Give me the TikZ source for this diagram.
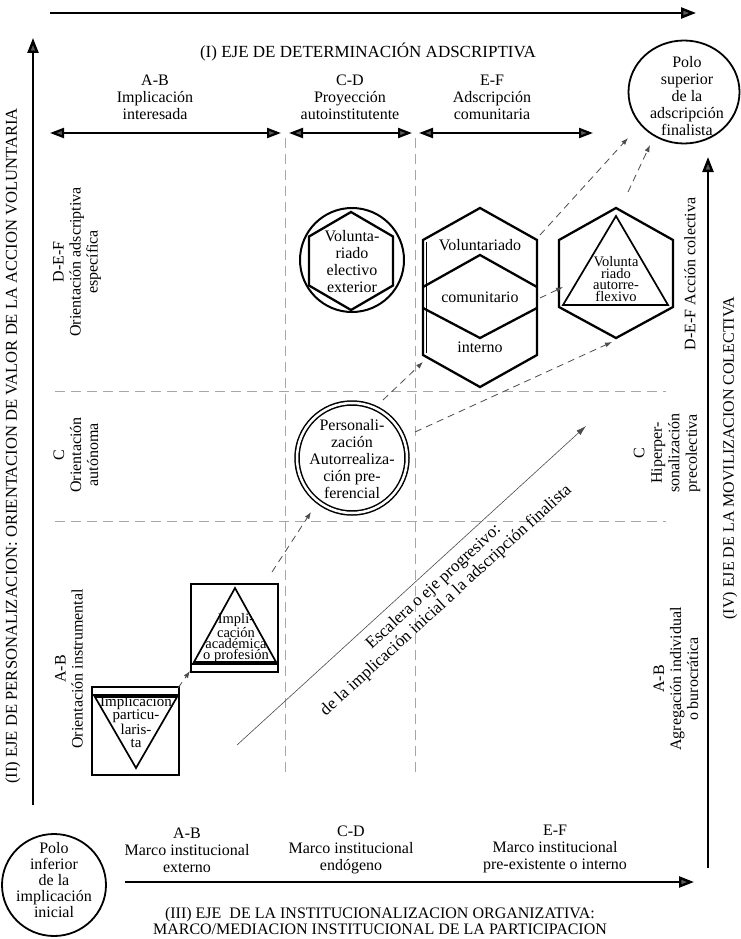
\documentclass[tikz,border=0pt]{standalone}
\usepackage{fontspec}
\setmainfont{Liberation Serif}
\usetikzlibrary{arrows.meta,shapes.geometric}
\begin{document}
\begin{tikzpicture}[x=1pt,y=-1pt,
  txt/.style={font=\fontsize{16}{17}\selectfont, align=center, inner sep=0pt},
  bigtxt/.style={font=\fontsize{17}{17}\selectfont, align=center, inner sep=0pt},
  smalltxt/.style={font=\fontsize{15}{13.3}\selectfont, align=center, inner sep=0pt},
  tinytxt/.style={font=\fontsize{14.5}{11.4}\selectfont, align=center, inner sep=0pt},
  axis/.style={line width=2.4pt, -{Triangle[length=15pt,width=11pt,fill=gray!70!black]}},
  dblarrow/.style={line width=2.2pt, {Triangle[length=14pt,width=10pt,fill=gray!70!black]}-{Triangle[length=14pt,width=10pt,fill=gray!70!black]}},
  gridln/.style={gray!70, line width=0.9pt, dash pattern=on 10pt off 6pt},
  shapeln/.style={line width=2.3pt, line join=miter},
  thinln/.style={line width=1.7pt, line join=miter},
  flow/.style={gray!60!black, line width=0.8pt, dash pattern=on 7pt off 5pt, -{Latex[length=7pt,width=5pt]}},
  escal/.style={gray!60!black, line width=0.6pt, -{Latex[length=10pt,width=6pt]}}
]
\useasboundingbox (0,0) rectangle (740,939);
\fill[white] (0,0) rectangle (740,939);

% ---------- axes ----------
\coordinate (topL) at (50,13);
\coordinate (topR) at (696,13);
\draw[axis] (topL) -- (topR);
\coordinate (leftB) at (33,805);
\coordinate (leftT) at (33,38);
\draw[axis] (leftB) -- (leftT);
\coordinate (rightB) at (708,868);
\coordinate (rightT) at (708,157);
\draw[axis] (rightB) -- (rightT);
\coordinate (botL) at (125,882);
\coordinate (botR) at (694,882);
\draw[axis] (botL) -- (botR);

% ---------- axis titles ----------
\node[bigtxt] (ttlI) at (368,52) {(I) EJE DE DETERMINACIÓN ADSCRIPTIVA};
\node[txt, rotate=90, font=\fontsize{16.6}{17}\selectfont] (ttlII) at (13,446) {(II) EJE DE PERSONALIZACION: ORIENTACION DE VALOR DE LA ACCION VOLUNTARIA};
\node[txt, rotate=90] (ttlIV) at (730,458) {(IV) EJE DE LA MOVILIZACION COLECTIVA};
\node[txt, font=\fontsize{16}{16}\selectfont] (ttlIII) at (380,921) {(III) EJE \ DE LA INSTITUCIONALIZACION ORGANIZATIVA:\\MARCO/MEDIACION INSTITUCIONAL DE LA PARTICIPACION};

% ---------- column headers ----------
\node[txt] (hAB) at (155,97) {A-B\\Implicación\\interesada};
\node[txt] (hCD) at (350,97) {C-D\\Proyección\\autoinstitutente};
\node[txt] (hEF) at (492,97) {E-F\\Adscripción\\comunitaria};
\coordinate (d1a) at (50,133);  \coordinate (d1b) at (281,133);
\coordinate (d2a) at (289,133); \coordinate (d2b) at (412,133);
\coordinate (d3a) at (419,133); \coordinate (d3b) at (593,133);
\draw[dblarrow] (d1a) -- (d1b);
\draw[dblarrow] (d2a) -- (d2b);
\draw[dblarrow] (d3a) -- (d3b);

% ---------- grid ----------
\coordinate (v1t) at (285,138); \coordinate (v1b) at (285,778);
\coordinate (v2t) at (415,138); \coordinate (v2b) at (415,778);
\coordinate (h1l) at (55,391);  \coordinate (h1r) at (666,391);
\coordinate (h2l) at (55,521);  \coordinate (h2r) at (666,521);
\draw[gridln] (v1t) -- (v1b);
\draw[gridln] (v2t) -- (v2b);
\draw[gridln] (h1l) -- (h1r);
\draw[gridln] (h2l) -- (h2r);

% ---------- row labels ----------
\node[txt, rotate=90] (lDEF) at (77,262) {D-E-F\\Orientación adscriptiva\\específica};
\node[txt, rotate=90] (lC) at (76,455) {C\\Orientación\\autónoma};
\node[txt, rotate=90] (lAB) at (69,669) {A-B\\Orientación instrumental};
\node[txt, rotate=90] (rDEF) at (690,274) {D-E-F Acción colectiva};
\node[txt, rotate=90, font=\fontsize{16}{17.5}\selectfont] (rC) at (667,453) {C\\Hiperper-\\sonalización\\precolectiva};
\node[txt, rotate=90] (rAB) at (676,679) {A-B\\Agregación individual\\o burocrática};

% ---------- bottom labels ----------
\node[txt] (bAB) at (187,850) {A-B\\Marco institucional\\externo};
\node[txt] (bCD) at (351,850) {C-D\\Marco institucional\\endógeno};
\node[txt] (bEF) at (555,849) {E-F\\Marco institucional\\pre-existente o interno};

% ---------- poles ----------
\node[ellipse, draw, line width=1.8pt, minimum width=111pt, minimum height=103pt, inner sep=0pt] (psupC) at (684,92) {};
\node[txt] (psup) at (687,96) {Polo\\superior\\de la\\adscripción\\finalista};
\node[ellipse, draw, line width=1.8pt, minimum width=104pt, minimum height=102pt, inner sep=0pt] (pinfC) at (54,885) {};
\node[txt, font=\fontsize{16}{16}\selectfont] (pinf) at (54,880) {Polo\\inferior\\de la\\implicación\\inicial};

% ---------- square 1: Implicacion particularista ----------
\node[draw, shapeln, minimum width=87pt, minimum height=88pt, inner sep=0pt] (sq1) at (135.5,731) {};
\draw[thinln] (92,695) -- (179,695);
\draw[thinln] (95,697) -- (177,697) -- (136,768) -- cycle;
\node[smalltxt] (sq1t) at (136,722) {Implicación\\particu-\\laris-\\ta};

% ---------- square 2: Implicacion academica ----------
\node[draw, shapeln, minimum width=87pt, minimum height=88pt, inner sep=0pt] (sq2) at (234.5,628) {};
\draw[thinln] (191,664) -- (278,664);
\draw[thinln] (235,588) -- (276,662) -- (194,662) -- cycle;
\node[tinytxt] (sq2t) at (236,638) {Impli-\\cación\\académica\\o profesión};

% ---------- double circle ----------
\node[circle, draw, double, double distance=2.5pt, line width=1.5pt, minimum size=110pt, inner sep=0pt] (pc) at (352,458) {};
\node[txt] (pct) at (352,459) {Personali-\\zación\\Autorrealiza-\\ción pre-\\ferencial};

% ---------- circle + hexagon: voluntariado electivo ----------
\node[circle, draw, line width=2pt, minimum size=104pt, inner sep=0pt] (ve) at (352,260) {};
\draw[shapeln] (351,212) -- (393,236.5) -- (393,285.5) -- (351,310) -- (309,285.5) -- (309,236.5) -- cycle;
\node[txt] (vet) at (352,262) {Volunta-\\riado\\electivo\\exterior};

% ---------- big hexagon ----------
\draw[shapeln] (480,208) -- (537,240) -- (537,355) -- (480,387) -- (423,355) -- (423,240) -- cycle;
\draw[line width=1.2pt] (426.5,242) -- (426.5,353);
\draw[shapeln] (423,287) -- (480,255) -- (537,287);
\draw[shapeln] (423,308) -- (480,338) -- (537,308);
\node[txt] (hx1) at (480,245) {Voluntariado};
\node[txt] (hx2) at (480,297) {comunitario};
\node[txt] (hx3) at (480,347) {interno};

% ---------- hexagon 2 ----------
\draw[shapeln] (616,208) -- (673,240) -- (673,307) -- (616,338) -- (559,307) -- (559,240) -- cycle;
\draw[thinln] (616,216) -- (668,305) -- (563,305) -- cycle;
\node[tinytxt] (hx4) at (616,279) {Volunta\\riado\\autorre-\\flexivo};

% ---------- dashed progression arrows ----------
\coordinate (a1s) at (178,688); \coordinate (a1e) at (190,671);
\coordinate (a2s) at (272,572); \coordinate (a2e) at (311,512);
\coordinate (a3s) at (383,400); \coordinate (a3e) at (423,362);
\coordinate (a4s) at (415,432); \coordinate (a4e) at (612,342);
\coordinate (a5s) at (540,235); \coordinate (a5e) at (628,138);
\coordinate (a6s) at (628,192); \coordinate (a6e) at (650,145);
\coordinate (a7s) at (540,298); \coordinate (a7e) at (563,287);
\draw[flow] (a1s) -- (a1e);
\draw[flow] (a2s) -- (a2e);
\draw[flow] (a3s) -- (a3e);
\draw[flow] (a4s) -- (a4e);
\draw[flow] (a5s) -- (a5e);
\draw[flow] (a6s) -- (a6e);
\draw[flow] (a7s) -- (a7e);

% ---------- escalera ----------
\coordinate (escS) at (237,745); \coordinate (escE) at (586,426);
\draw[escal] (escS) -- (escE);
\node[bigtxt, font=\fontsize{17}{18.5}\selectfont, rotate=42.5] (esc) at (440,594) {Escalera o eje progresivo:\\de la implicación inicial a la adscripción finalista};
\end{tikzpicture}
\end{document}
